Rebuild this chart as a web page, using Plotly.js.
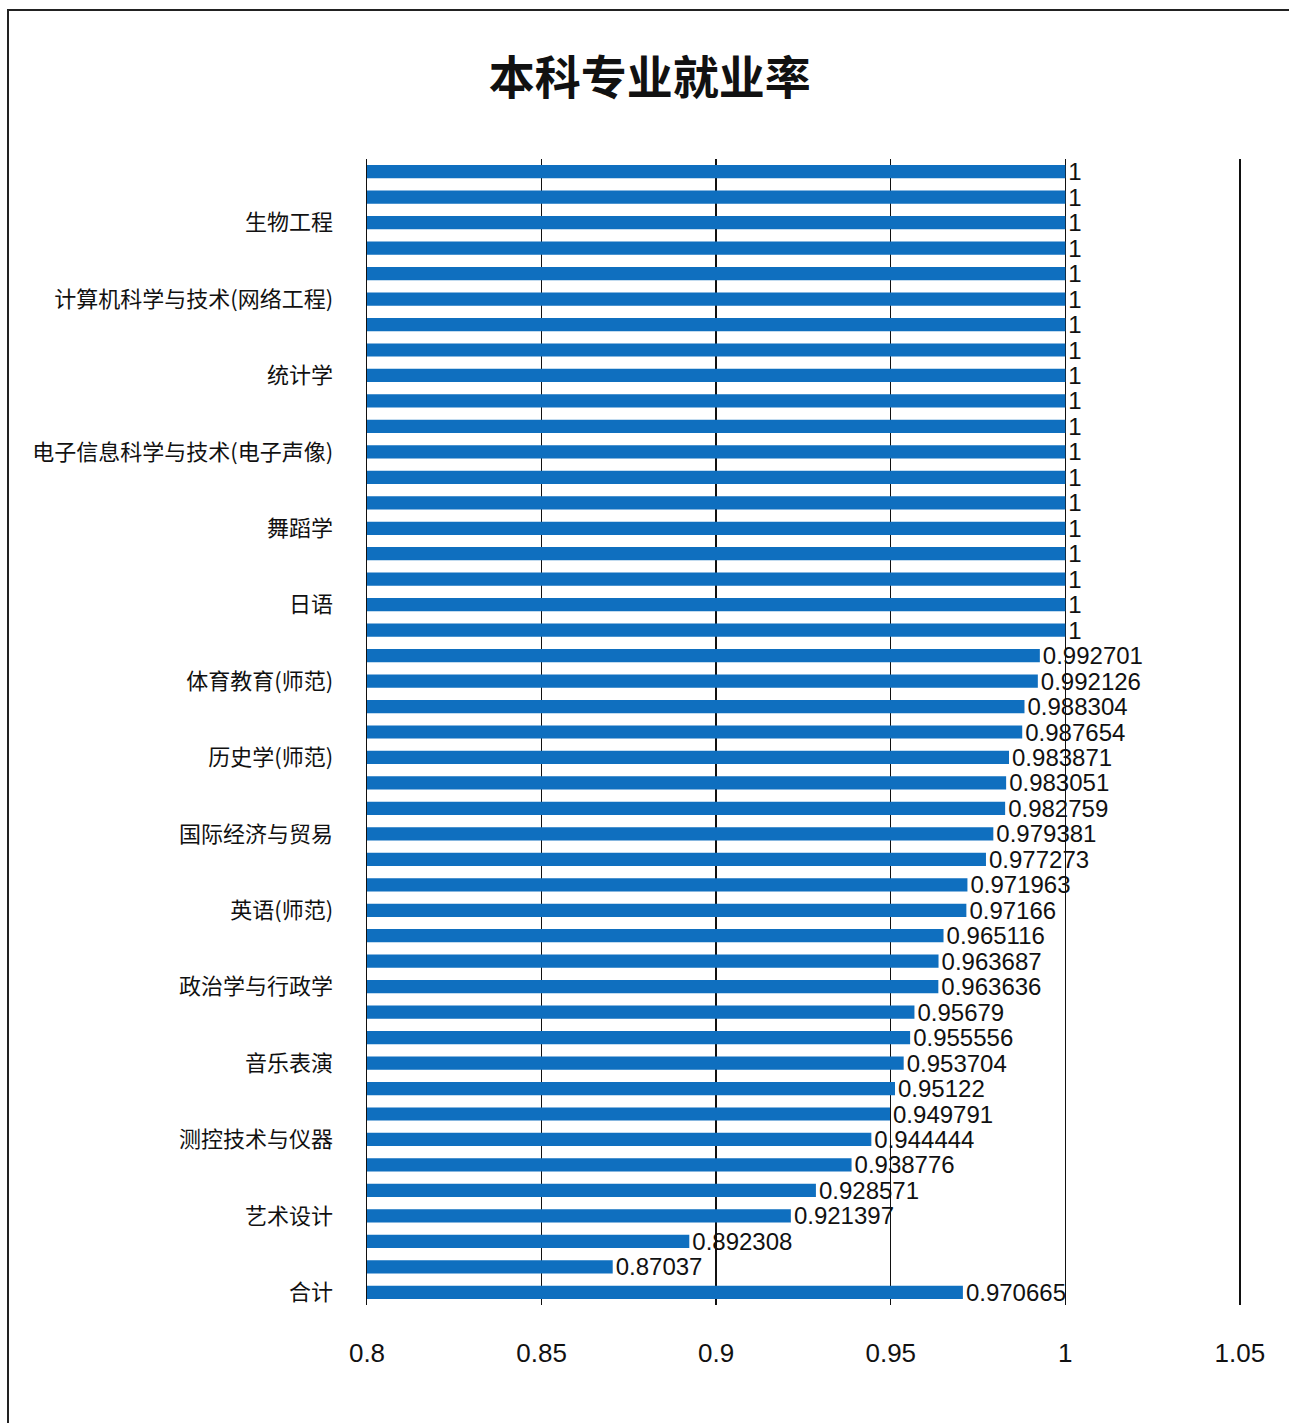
<!DOCTYPE html>
<html>
<head>
<meta charset="utf-8">
<script src="https://cdn.plot.ly/plotly-3.0.1.min.js"></script>
<style>
  html, body { margin: 0; padding: 0; background: #fff; }
  #chart { width: 1289px; height: 1423px; }
  #frame { position: absolute; left: 7px; top: 9px; width: 1290px; height: 1420px;
           border-top: 2px solid #222; border-left: 2px solid #222; pointer-events: none; }
</style>
</head>
<body>
<div id="chart"></div>
<div id="frame"></div>
<script>
// Bars listed top to bottom; '' = bar without a printed axis label
const majors = [
  '', '', '生物工程', '', '', '计算机科学与技术(网络工程)', '', '', '统计学',
  '', '', '电子信息科学与技术(电子声像)', '', '', '舞蹈学', '', '', '日语',
  '', '', '体育教育(师范)', '', '', '历史学(师范)', '', '', '国际经济与贸易',
  '', '', '英语(师范)', '', '', '政治学与行政学', '', '', '音乐表演',
  '', '', '测控技术与仪器', '', '', '艺术设计', '', '', '合计'
];
const rates = [
  1, 1, 1, 1, 1, 1, 1, 1, 1, 1, 1, 1, 1, 1, 1, 1, 1, 1, 1,
  0.992701, 0.992126, 0.988304, 0.987654, 0.983871, 0.983051, 0.982759,
  0.979381, 0.977273, 0.971963, 0.97166, 0.965116, 0.963687, 0.963636,
  0.95679, 0.955556, 0.953704, 0.95122, 0.949791, 0.944444, 0.938776,
  0.928571, 0.921397, 0.892308, 0.87037, 0.970665
];
const xTicks = [0.8, 0.85, 0.9, 0.95, 1, 1.05];
const xTickText = ['0.8', '0.85', '0.9', '0.95', '1', '1.05'];
const chartTitle = '本科专业就业率';

const pos = majors.map((m, i) => i);
const labelPos = pos.filter(i => majors[i] !== '');
const labelText = labelPos.map(i => majors[i]);

const numFont = '"Liberation Sans", Arial, sans-serif';

const trace = {
  type: 'bar',
  orientation: 'h',
  x: rates,
  y: pos,
  marker: { color: '#0f6fbf' },
  text: rates.map(v => String(v)),
  textposition: 'outside',
  constraintext: 'none',
  cliponaxis: false,
  textfont: { family: numFont, size: 24, color: '#111' },
  hoverinfo: 'none'
};

const layout = {
  width: 1289,
  height: 1423,
  paper_bgcolor: '#fff',
  plot_bgcolor: '#fff',
  margin: { l: 367, r: 47, t: 159, b: 118 },
  bargap: 0.48,
  showlegend: false,
  title: {
    text: '<b>' + chartTitle + '</b>',
    font: { family: '"Noto Sans CJK SC", sans-serif', size: 46, color: '#111' },
    xref: 'container', x: 0.504, xanchor: 'center',
    yref: 'container', y: 0.945, yanchor: 'middle'
  },
  xaxis: {
    range: [0.8, 1.0506],
    tickvals: xTicks,
    ticktext: xTickText,
    showgrid: true,
    gridcolor: '#111',
    gridwidth: 1.5,
    zeroline: false,
    showline: false,
    ticks: '',
    ticklabelstandoff: 30,
    tickfont: { family: numFont, size: 26, color: '#111' }
  },
  yaxis: {
    range: [44.5, -0.5],
    tickvals: labelPos,
    ticktext: labelText,
    showgrid: false,
    zeroline: false,
    showline: true,
    linecolor: '#111',
    linewidth: 1.5,
    ticks: '',
    ticklabelstandoff: 28,
    tickfont: { family: '"Noto Sans CJK SC", sans-serif', size: 22, color: '#111' }
  }
};

Plotly.newPlot('chart', [trace], layout, { displayModeBar: false, staticPlot: true });
</script>
</body>
</html>
